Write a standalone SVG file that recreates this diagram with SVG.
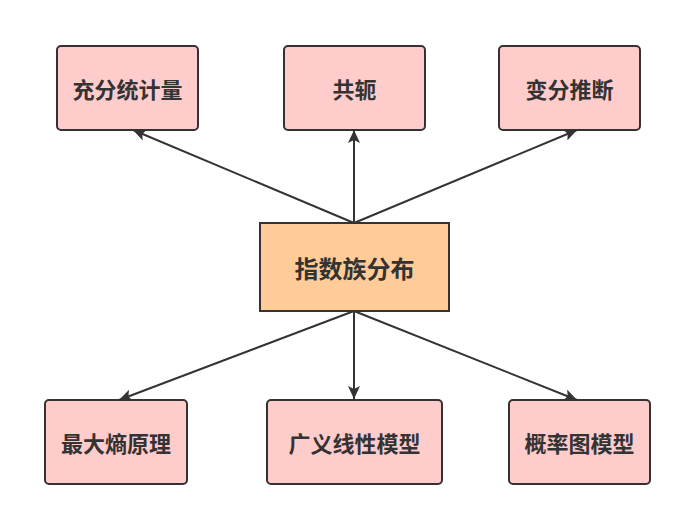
<svg xmlns="http://www.w3.org/2000/svg" width="700" height="511" viewBox="0 0 700 511">
<style>
.node rect{fill:#FFCCCC;stroke:#333333;stroke-width:2}
.center rect{fill:#FFCC99;stroke:#333333;stroke-width:2}
text{font-family:"Noto Sans CJK SC","Noto Sans",sans-serif;font-weight:bold;fill:#333333;text-anchor:middle;dominant-baseline:central;font-size:22px}
.center text{font-size:24px}
.edges line{stroke:#333333;stroke-width:2;fill:none}
</style>
<defs>
<marker id="arr" markerWidth="14" markerHeight="12" refX="13" refY="6" orient="auto" markerUnits="userSpaceOnUse">
<path d="M0,0 L13,6 L0,12 L3,6 Z" fill="#333333"/>
</marker>
</defs>
<rect width="700" height="511" fill="#ffffff"/>
<g class="edges">
<line x1="354" y1="223" x2="133" y2="130" marker-end="url(#arr)"/>
<line x1="354" y1="223" x2="354" y2="130" marker-end="url(#arr)"/>
<line x1="354" y1="223" x2="577" y2="130" marker-end="url(#arr)"/>
<line x1="354" y1="311" x2="119" y2="400" marker-end="url(#arr)"/>
<line x1="354" y1="311" x2="354" y2="399" marker-end="url(#arr)"/>
<line x1="354" y1="311" x2="577" y2="400" marker-end="url(#arr)"/>
</g>
<g id="center" class="center">
<rect x="260" y="223" width="189" height="88"/>
<text x="354.5" y="267">指数族分布</text>
</g>
<g id="n1" class="node">
<rect x="57" y="46" width="141" height="84" rx="4"/>
<text x="127.5" y="88">充分统计量</text>
</g>
<g id="n2" class="node">
<rect x="284" y="46" width="141" height="84" rx="4"/>
<text x="354.5" y="88">共轭</text>
</g>
<g id="n3" class="node">
<rect x="499" y="46" width="141" height="84" rx="4"/>
<text x="569.5" y="88">变分推断</text>
</g>
<g id="n4" class="node">
<rect x="45" y="400" width="142" height="84" rx="4"/>
<text x="116" y="442">最大熵原理</text>
</g>
<g id="n5" class="node">
<rect x="267" y="400" width="175" height="84" rx="4"/>
<text x="354.5" y="442">广义线性模型</text>
</g>
<g id="n6" class="node">
<rect x="509" y="400" width="141" height="84" rx="4"/>
<text x="579.5" y="442">概率图模型</text>
</g>
</svg>
